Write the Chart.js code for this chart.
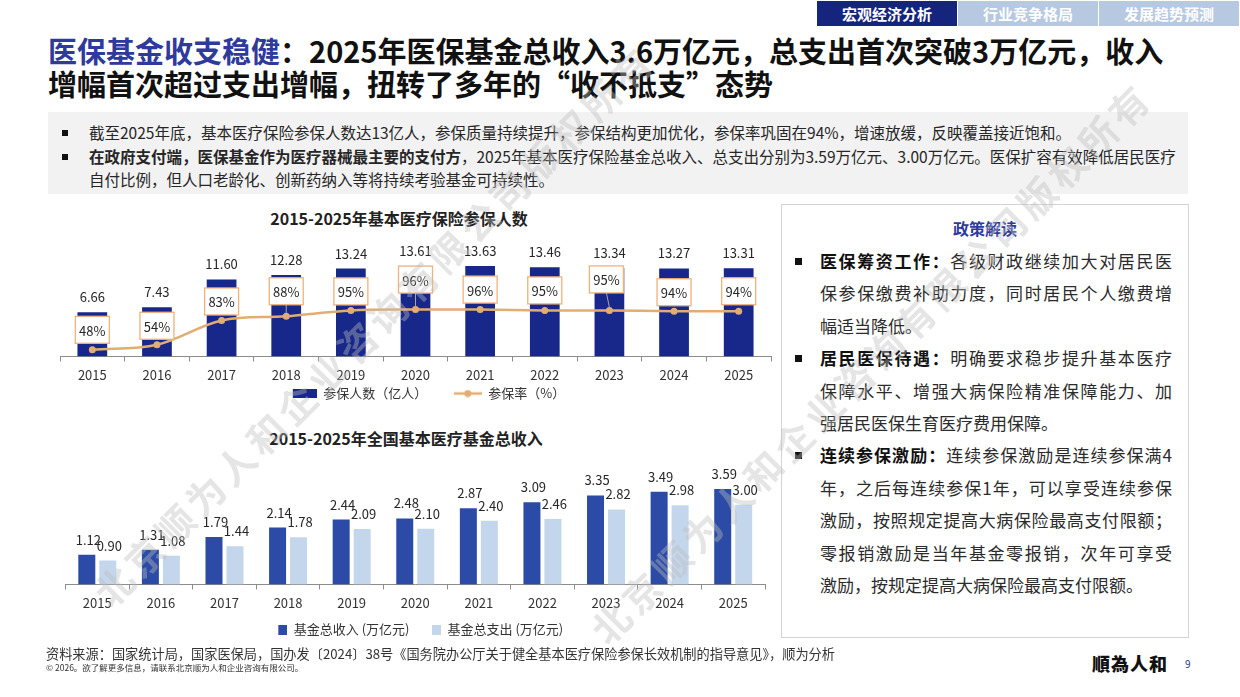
<!DOCTYPE html>
<html lang="zh-CN">
<head>
<meta charset="utf-8">
<title>医保基金收支稳健</title>
<script src="https://cdn.jsdelivr.net/npm/chart.js@4.4.1/dist/chart.umd.min.js"></script>
<style>
  html, body { margin: 0; padding: 0; }
  body {
    width: 1240px; height: 697px; position: relative; overflow: hidden; background: #fff;
    font-family: "Noto Sans CJK SC", "Noto Sans", sans-serif; color: #222;
  }
  .abs { position: absolute; }
  .tab { position: absolute; top: 1px; width: 140px; height: 25px; line-height: 25px; text-align: center;
         color: #fff; font-weight: 700; font-size: 15px; background: #b6c9e1; }
  #title { left: 48px; top: 34px; font-size: 29px; line-height: 33px; font-weight: 700; white-space: nowrap; color: #111; }
  #summary { left: 48px; top: 112px; width: 1140px; height: 82px; background: #f2f2f2; }
  #summary .ln { position: absolute; left: 41px; font-size: 15.5px; line-height: 23px; height: 23px; white-space: nowrap; color: #262626; }
  #summary .sq { position: absolute; left: 14px; width: 6px; height: 6px; background: #111; }
  .ctitle { width: 400px; text-align: center; font-size: 16px; line-height: 24px; font-weight: 700; color: #222; white-space: nowrap; }
  #policy { left: 781px; top: 204px; width: 406px; height: 432px; border: 1px solid #d4d4d4; }
  #policy .ptitle { position: absolute; left: 0; width: 406px; top: 11px; text-align: center; font-size: 16px; line-height: 24px; font-weight: 700; color: #2e3a9c; }
  #policy .lines { position: absolute; left: 38px; top: 40px; width: 352px; }
  #policy .ln { height: 32.4px; line-height: 32.4px; font-size: 17px; white-space: nowrap; color: #2b2b2b;
                text-align: justify; text-align-last: justify; }
  #policy .ln.end { text-align-last: left; }
  #policy .ln b { color: #111; }
  #policy .sq { position: absolute; left: -25px; width: 7px; height: 7px; background: #111; }
  .wm { position: absolute; font-size: 38px; line-height: 38px; font-weight: 700; letter-spacing: 5px; white-space: nowrap;
        color: rgba(190, 190, 190, 0.4); transform-origin: 0 50%; transform: rotate(-45deg); pointer-events: none; z-index: 10; }
</style>
</head>
<body>

<div class="tab" style="left:817px;background:#15247d;">宏观经济分析</div>
<div class="tab" style="left:958px;">行业竞争格局</div>
<div class="tab" style="left:1099px;">发展趋势预测</div>

<div id="title" class="abs"><span style="color:#2e3a9c">医保基金收支稳健</span>：2025年医保基金总收入3.6万亿元，总支出首次突破3万亿元，收入<br>增幅首次超过支出增幅，扭转了多年的“收不抵支”态势</div>

<div id="summary" class="abs">
  <div class="sq" style="top:18px"></div>
  <div class="ln" style="top:9px">截至2025年底，基本医疗保险参保人数达13亿人，参保质量持续提升，参保结构更加优化，参保率巩固在94%，增速放缓，反映覆盖接近饱和。</div>
  <div class="sq" style="top:42px"></div>
  <div class="ln" style="top:33px"><b>在政府支付端，医保基金作为医疗器械最主要的支付方</b>，2025年基本医疗保险基金总收入、总支出分别为3.59万亿元、3.00万亿元。医保扩容有效降低居民医疗</div>
  <div class="ln" style="top:56px">自付比例，但人口老龄化、创新药纳入等将持续考验基金可持续性。</div>
</div>

<div class="abs ctitle" style="left:199px;top:206px;">2015-2025年基本医疗保险参保人数</div>
<canvas id="peopleChart" class="abs" style="left:50px;top:226px;width:730px;height:184px;" width="730" height="184"></canvas>

<div class="abs ctitle" style="left:206px;top:426px;">2015-2025年全国基本医疗基金总收入</div>
<canvas id="fundChart" class="abs" style="left:55px;top:450px;width:720px;height:196px;" width="720" height="196"></canvas>

<div id="policy" class="abs">
  <div class="ptitle">政策解读</div>
  <div class="lines">
    <div style="position:relative">
      <div class="sq" style="top:13px"></div>
      <div class="ln"><b>医保筹资工作：</b>各级财政继续加大对居民医</div>
    </div>
    <div class="ln">保参保缴费补助力度，同时居民个人缴费增</div>
    <div class="ln end">幅适当降低。</div>
    <div style="position:relative">
      <div class="sq" style="top:13px"></div>
      <div class="ln"><b>居民医保待遇：</b>明确要求稳步提升基本医疗</div>
    </div>
    <div class="ln">保障水平、增强大病保险精准保障能力、加</div>
    <div class="ln end">强居民医保生育医疗费用保障。</div>
    <div style="position:relative">
      <div class="sq" style="top:13px"></div>
      <div class="ln"><b>连续参保激励：</b>连续参保激励是连续参保满4</div>
    </div>
    <div class="ln">年，之后每连续参保1年，可以享受连续参保</div>
    <div class="ln">激励，按照规定提高大病保险最高支付限额；</div>
    <div class="ln">零报销激励是当年基金零报销，次年可享受</div>
    <div class="ln end">激励，按规定提高大病保险最高支付限额。</div>
  </div>
</div>

<div class="abs" style="left:46px;top:646px;font-size:13.2px;line-height:16px;color:#333;white-space:nowrap;">资料来源：国家统计局，国家医保局，国办发〔2024〕38号《国务院办公厅关于健全基本医疗保险参保长效机制的指导意见》，顺为分析</div>
<div class="abs" style="left:46px;top:662px;font-size:8.5px;line-height:10px;color:#333;white-space:nowrap;">© 2026。欲了解更多信息，请联系北京顺为人和企业咨询有限公司。</div>
<div class="abs" style="left:1092px;top:651px;font-size:18px;line-height:24px;font-weight:900;letter-spacing:1px;color:#111;font-family:'Noto Sans CJK TC',sans-serif;">順為人和</div>
<div class="abs" style="left:1185px;top:657px;font-size:10px;line-height:14px;color:#1f3f8f;">9</div>

<div class="wm" style="left:100px;top:580px;">北京顺为人和企业咨询有限公司版权所有</div>
<div class="wm" style="left:597px;top:617px;">北京顺为人和企业咨询有限公司版权所有</div>

<script>
'use strict';

    // data
    const years = ['2015', '2016', '2017', '2018', '2019', '2020', '2021', '2022', '2023', '2024', '2025'];
    const insuredPeople = [6.66, 7.43, 11.60, 12.28, 13.24, 13.61, 13.63, 13.46, 13.34, 13.27, 13.31];   // 亿人
    const insuredRate = [48, 54, 83, 88, 95, 96, 96, 95, 95, 94, 94];                                   // %
    const fundIncome = [1.12, 1.31, 1.79, 2.14, 2.44, 2.48, 2.87, 3.09, 3.35, 3.49, 3.59];             // 万亿元
    const fundExpense = [0.90, 1.08, 1.44, 1.78, 2.09, 2.10, 2.40, 2.46, 2.82, 2.98, 3.00];            // 万亿元

    const navy = '#17288a';
    const tan = '#e2ad72';
    const incomeBlue = '#2b4ba6';
    const expenseBlue = '#c4d6ec';

    Chart.defaults.font.family = '"Noto Sans CJK SC", "Noto Sans", sans-serif';
    Chart.defaults.color = '#333';

    // small canvases used as legend markers (transparent on the left = gap between items)
    function marker(w, h, draw) {
        var c = document.createElement('canvas');
        c.width = w; c.height = h;
        draw(c.getContext('2d'));
        return c;
    }
    var rectNavy = marker(51, 9, function (g) { g.fillStyle = navy; g.fillRect(27, 0, 24, 9); });
    var lineDot = marker(51, 8, function (g) {
        g.strokeStyle = tan; g.lineWidth = 2.5;
        g.beginPath(); g.moveTo(23, 4); g.lineTo(51, 4); g.stroke();
        g.fillStyle = tan; g.beginPath(); g.arc(37, 4, 3.5, 0, Math.PI * 2); g.fill();
    });
    var sqIncome = marker(20, 10, function (g) { g.fillStyle = incomeBlue; g.fillRect(11, 0, 9, 10); });
    var sqExpense = marker(20, 10, function (g) { g.fillStyle = expenseBlue; g.fillRect(11, 0, 9, 10); });

    function legendWith(markers) {
        return function (chart) {
            var items = Chart.defaults.plugins.legend.labels.generateLabels(chart);
            items.sort(function (a, b) { return a.datasetIndex - b.datasetIndex; });
            items.forEach(function (it) { it.pointStyle = markers[it.datasetIndex]; });
            return items;
        };
    }

    // numbers above the bars
    const barValues = {
        id: 'barValues',
        afterDatasetsDraw(chart, args, opts) {
            var ctx = chart.ctx;
            ctx.save();
            ctx.font = '13px "Noto Sans CJK SC", sans-serif';
            ctx.fillStyle = '#262626';
            ctx.textAlign = 'center';
            ctx.textBaseline = 'middle';
            opts.datasets.forEach(function (di) {
                var meta = chart.getDatasetMeta(di);
                var data = chart.data.datasets[di].data;
                meta.data.forEach(function (bar, i) {
                    ctx.fillText(data[i].toFixed(2), bar.x + opts.dx, bar.y - opts.gap);
                });
            });
            ctx.restore();
        }
    };

    // boxed percentage labels on the rate line
    const rateBoxes = {
        id: 'rateBoxes',
        afterDatasetsDraw(chart, args, opts) {
            var ctx = chart.ctx;
            var meta = chart.getDatasetMeta(opts.datasetIndex);
            var data = chart.data.datasets[opts.datasetIndex].data;
            var w = 34, h = 27;
            ctx.save();
            ctx.font = '13px "Noto Sans CJK SC", sans-serif';
            ctx.textAlign = 'center';
            ctx.textBaseline = 'middle';
            meta.data.forEach(function (pt, i) {
                var cx = pt.x + (opts.dx[i] || 0);
                var cy = pt.y + opts.dy[i];
                if (opts.dy[i] < -22) {
                    ctx.strokeStyle = '#a6a6a6';
                    ctx.lineWidth = 1;
                    ctx.beginPath(); ctx.moveTo(pt.x, pt.y - 3); ctx.lineTo(cx, cy + h / 2); ctx.stroke();
                }
                ctx.fillStyle = '#fff';
                ctx.fillRect(cx - w / 2, cy - h / 2, w, h);
                ctx.strokeStyle = '#f0b27a';
                ctx.lineWidth = 1.3;
                ctx.strokeRect(cx - w / 2, cy - h / 2, w, h);
                ctx.fillStyle = '#262626';
                ctx.fillText(data[i] + '%', cx, cy + 1);
            });
            ctx.restore();
        }
    };

    const xAxis = function () {
        return {
            grid: { display: true, drawOnChartArea: false, drawTicks: true, tickLength: 5, color: '#8c8c8c' },
            border: { display: true, color: '#8c8c8c', width: 1 },
            ticks: { font: { size: 13 }, color: '#333', padding: 6 },
            afterFit: function (scale) { scale.height = 27; }
        };
    };

    new Chart(document.getElementById('peopleChart'), {
        type: 'bar',
        data: {
            labels: years,
            datasets: [{
                label: '参保人数（亿人）',
                data: insuredPeople,
                backgroundColor: navy,
                barPercentage: 0.46,
                categoryPercentage: 1,
                yAxisID: 'y',
                order: 1
            }, {
                type: 'line',
                label: '参保率（%）',
                data: insuredRate,
                borderColor: tan,
                backgroundColor: tan,
                borderWidth: 2.5,
                tension: 0.35,
                pointRadius: 3.5,
                pointBackgroundColor: tan,
                pointBorderWidth: 0,
                yAxisID: 'y2',
                order: 0
            }]
        },
        options: {
            responsive: false,
            animation: false,
            layout: { padding: { left: 10, right: 9, top: 9, bottom: 0 } },
            scales: {
                x: xAxis(),
                y: { display: false, min: 0, max: 18.3 },
                y2: { display: false, min: 40, max: 185 }
            },
            plugins: {
                tooltip: { enabled: false },
                legend: {
                    position: 'bottom',
                    labels: {
                        usePointStyle: true, pointStyleWidth: 51, padding: 3.5,
                        font: { size: 13 }, color: '#333',
                        generateLabels: legendWith([rectNavy, lineDot])
                    }
                },
                barValues: { datasets: [0], gap: 15, dx: 0 },
                rateBoxes: {
                    datasetIndex: 1,
                    dy: [-20, -19, -19, -25, -19, -30, -20, -20, -31, -19, -20],
                    dx: [0, 0, 0, 0, 0, 0, 0, 0, -3, 0, 0]
                }
            }
        },
        plugins: [barValues, rateBoxes]
    });

    new Chart(document.getElementById('fundChart'), {
        type: 'bar',
        data: {
            labels: years,
            datasets: [{
                label: '基金总收入 (万亿元)',
                data: fundIncome,
                backgroundColor: incomeBlue,
                categoryPercentage: 0.66,
                barPercentage: 0.81
            }, {
                label: '基金总支出 (万亿元)',
                data: fundExpense,
                backgroundColor: expenseBlue,
                categoryPercentage: 0.66,
                barPercentage: 0.81
            }]
        },
        options: {
            responsive: false,
            animation: false,
            layout: { padding: { left: 10.5, right: 10, top: 9, bottom: 0 } },
            scales: {
                x: xAxis(),
                y: { display: false, min: 0, max: 4.72 }
            },
            plugins: {
                tooltip: { enabled: false },
                legend: {
                    position: 'bottom',
                    labels: {
                        usePointStyle: true, pointStyleWidth: 20, padding: 11.5,
                        font: { size: 13 }, color: '#333',
                        generateLabels: legendWith([sqIncome, sqExpense])
                    }
                },
                barValues: { datasets: [0, 1], gap: 15, dx: 1.5 }
            }
        },
        plugins: [barValues]
    });
</script>
</body>
</html>
